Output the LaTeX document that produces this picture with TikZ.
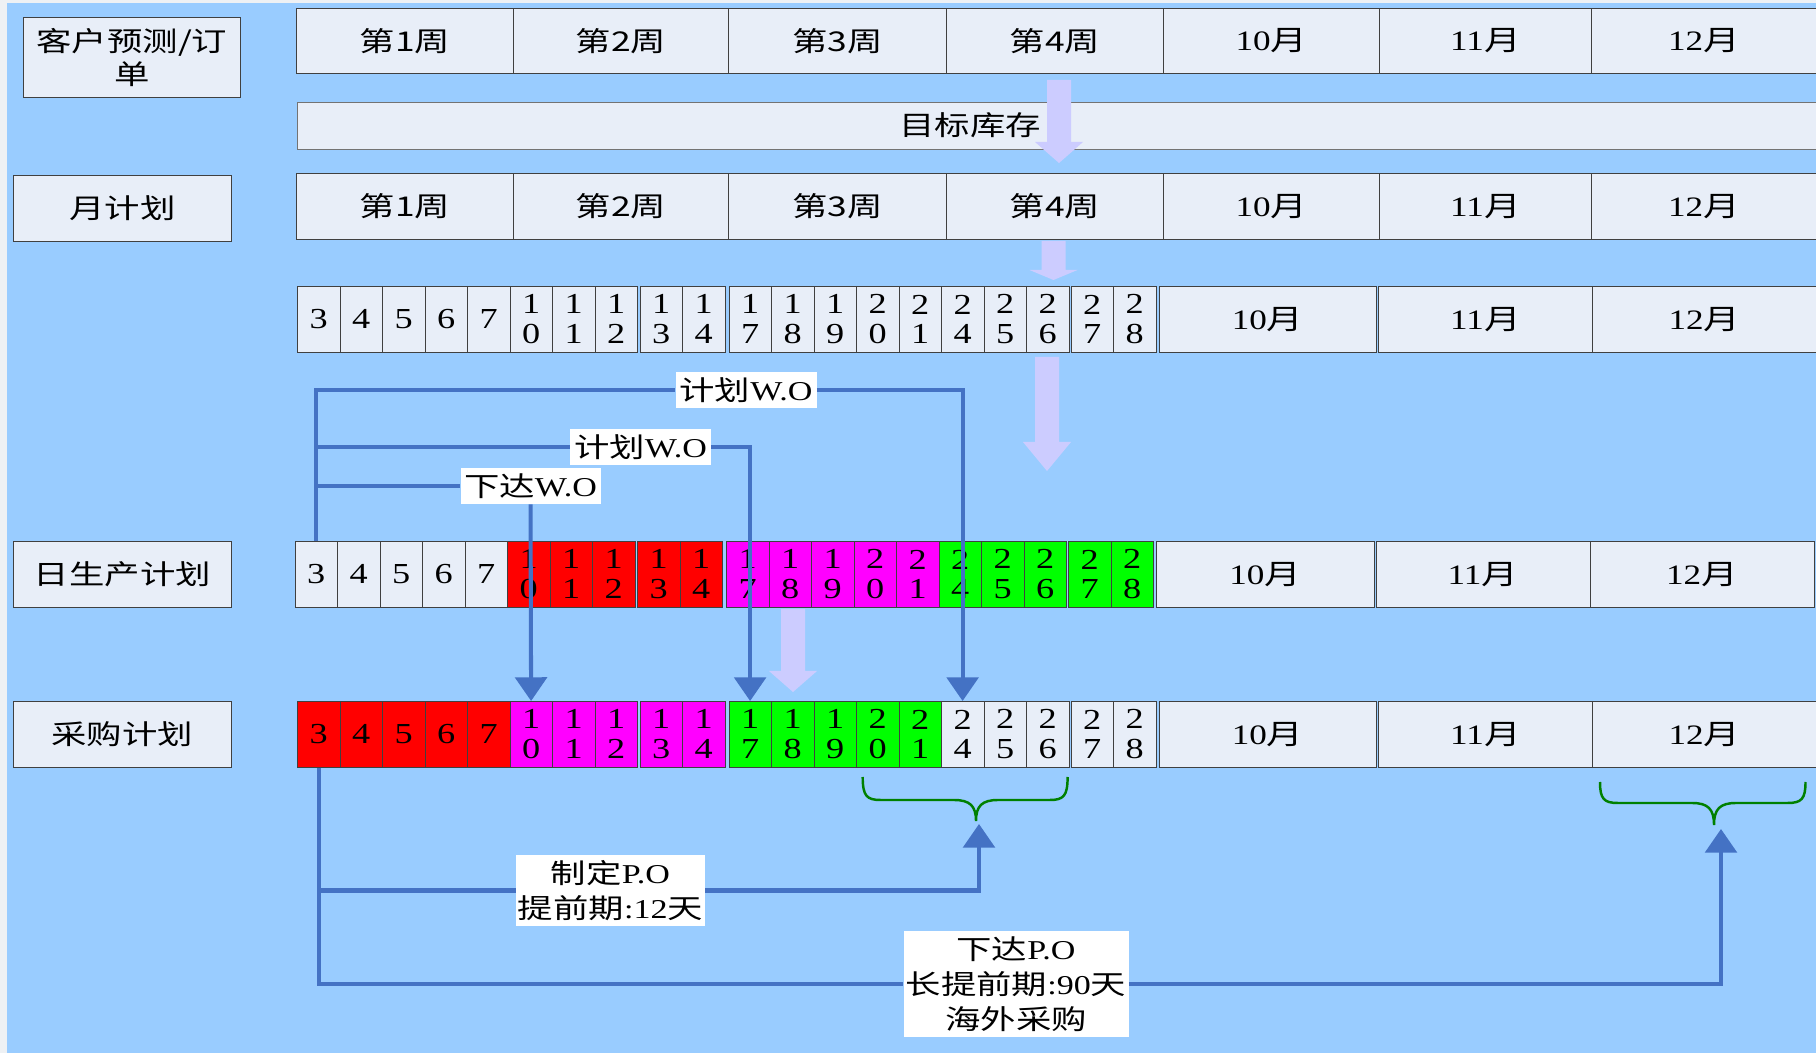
\documentclass[tikz,border=0pt]{standalone}
\usepackage{fontspec}
\setmainfont{Liberation Serif}[FakeStretch=1.25]
\newfontfamily\cjk{Noto Sans CJK SC}[FakeStretch=1.3]
\usetikzlibrary{arrows.meta}

\definecolor{sky}{HTML}{99CCFF}
\definecolor{stripgray}{HTML}{EEF1F4}
\definecolor{cellfill}{HTML}{E8EEF8}
\definecolor{woblue}{HTML}{4472C4}
\definecolor{lavender}{HTML}{CCCCFF}
\definecolor{bracegreen}{HTML}{008000}
\definecolor{lotred}{HTML}{FF0000}
\definecolor{lotpink}{HTML}{FF00FF}
\definecolor{lotgreen}{HTML}{00FF00}

\newcommand\mth[1]{#1{\cjk 月}}

% one row of days: #1 name, #2 top, #3 shift, #4-#7 fills of the four blocks
\newcommand\dayrow[7]{%
  \foreach \d/\x/\k in {3/297/0,4/339.5/0,5/382/0,6/424.5/0,7/467/0,
      10/509.5/1,11/552/1,12/594.5/1,13/639.5/1,14/682/1,
      17/728.5/2,18/771/2,19/813.5/2,20/856/2,21/898.5/2,
      24/941/3,25/983.5/3,26/1026/3,27/1070.5/3,28/1113/3}{%
    \pgfmathtruncatemacro\hi{\d/10}%
    \pgfmathtruncatemacro\lo{\d-10*\hi}%
    \ifnum\hi>0 \edef\daylbl{\hi\noexpand\\\lo}\else\edef\daylbl{\d}\fi
    \ifcase\k \def\dayfill{#4}\or\def\dayfill{#5}\or\def\dayfill{#6}\or\def\dayfill{#7}\fi
    \node[dcell, fill=\dayfill] (#1\d) at (\x+#3,#2) {\daylbl};
  }%
  \foreach \l/\r/\m in {1158.5/1376/10, 1378/1592/11, 1592/1816/12}{%
    \node[mcell, boxsize={\r-\l}{66}] (#1m\m) at (\l+#3,#2) {\mth{\m}};
  }%
}

% one row of weeks and months: #1 name, #2 top, #3 height
\newcommand\weekrow[3]{%
  \foreach \l/\r/\txt [count=\i] in {296/513/第1周, 513/728/第2周, 728/946/第3周, 946/1163/第4周}{%
    \node[wcell, boxsize={\r-\l}{#3}] (#1\i) at (\l,#2) {\txt};
  }%
  \foreach \l/\r/\m in {1163/1379/10, 1379/1591/11, 1591/1816/12}{%
    \node[mcell, boxsize={\r-\l}{#3}] (#1m\m) at (\l,#2) {\mth{\m}};
  }%
}

\newcommand\fatarrow[4]{% centre x, top, head base, tip
  \fill[lavender] ({#1-12},#2) -- ({#1+12},#2) -- ({#1+12},#3) -- ({#1+24},#3)
    -- (#1,#4) -- ({#1-24},#3) -- ({#1-12},#3) -- cycle;}

\newcommand\greenbrace[6]{% left, right, tip x, top, middle, bottom
  \draw[brace] (#2,#4) .. controls (#2,{#5-4}) and ({#2-4},#5) .. ({#2-18},#5)
    -- ({#3+22},#5) .. controls ({#3+6},#5) and (#3,{#5+6}) .. (#3,#6)
    .. controls (#3,{#5+6}) and ({#3-6},#5) .. ({#3-22},#5)
    -- ({#1+18},#5) .. controls ({#1+4},#5) and (#1,{#5-4}) .. (#1,#4);}

\begin{document}
\begin{tikzpicture}[x=0.02cm, y=-0.02cm,
    cell/.style={draw=black!75, fill=cellfill, inner sep=0pt, anchor=north west},
    boxsize/.style 2 args={minimum width=(#1)*0.02cm, minimum height=(#2)*0.02cm},
    wcell/.style={cell, font=\fontsize{15.5}{18}\selectfont\cjk},
    mcell/.style={cell, font=\fontsize{16}{18}\selectfont},
    dcell/.style={cell, boxsize={42.5}{66}, align=center, font=\fontsize{16.5}{17}\selectfont},
    rowname/.style={cell, align=center, font=\fontsize{15.5}{19}\selectfont\cjk},
    wotag/.style={fill=white, inner sep=0pt, align=center, font=\fontsize{15.5}{20}\selectfont},
    wo/.style={woblue, line width=2.3pt},
    woarrow/.style={wo, -{Triangle[width=18pt,length=13.5pt]}},
    brace/.style={bracegreen, line width=1.4pt}
]
\useasboundingbox (0,0) rectangle (1816,1053);
\fill[stripgray] (0,0) rectangle (1816,1053);
\fill[sky] (7,3) rectangle (1816,1053);

% row names
\node[rowname, boxsize={217}{80}] (cust)  at (23,17)  {客户预测/订\\单};
\node[rowname, boxsize={218}{66}] (mplan) at (13,175) {月计划};
\node[rowname, boxsize={218}{66}] (dplan) at (13,541) {日生产计划};
\node[rowname, boxsize={218}{66}] (pplan) at (13,701) {采购计划};

% calendar rows
\weekrow{fc}{8}{65}
\node[cell, draw=black!55, boxsize={1519}{47}] (stock) at (297,102) {};
\node[font=\fontsize{15.5}{18}\selectfont\cjk] (stocklbl) at (970,125.5) {目标库存};
\weekrow{mp}{173}{66}
\dayrow{d}{286}{0}{cellfill}{cellfill}{cellfill}{cellfill}
\dayrow{p}{541}{-2.5}{cellfill}{lotred}{lotpink}{lotgreen}
\dayrow{b}{701}{0}{lotred}{lotpink}{lotgreen}{cellfill}

% plan flows down
\fatarrow{1059}{80}{142}{163}
\fatarrow{1053.5}{241}{270}{280}
\fatarrow{1047}{357}{442}{471}
\fatarrow{793}{609}{671}{692}

% work orders
\node[wotag, boxsize={141}{36}] (wo1) at (746,390)   {{\cjk 计划}W.O};
\node[wotag, boxsize={141}{36}] (wo2) at (640.5,447) {{\cjk 计划}W.O};
\node[wotag, boxsize={140}{36}] (wo3) at (530.5,486) {{\cjk 下达}W.O};

\draw[wo] (p3.north) |- (wo1);
\draw[woarrow] (wo1) -| (b24.north);
\draw[wo] (p3.north |- wo2) -- (wo2);
\draw[woarrow] (wo2) -| (b17.north);
\draw[wo] (p3.north |- wo3) -- (wo3);
\draw[woarrow] (wo3) -- (b10.north);

% purchase orders
\node[wotag, boxsize={189}{71}] (po1) at (610.5,890.5)
  {{\cjk 制定}P.O\\{\cjk 提前期}:12{\cjk 天}};
\node[wotag, boxsize={225}{106}] (po2) at (1016,984)
  {{\cjk 下达}P.O\\{\cjk 长提前期}:90{\cjk 天}\\{\cjk 海外采购}};
\coordinate (need1) at (979,824);
\coordinate (need2) at (1721,829);

\draw[woarrow] (b3.south) |- (po2) -| (need2);
\draw[woarrow] (b3.south |- po1) -- (po1) -| (need1);

\greenbrace{862.7}{1067.6}{976}{777}{800}{821}
\greenbrace{1600}{1805.5}{1714}{782}{803}{825}
\end{tikzpicture}
\end{document}
